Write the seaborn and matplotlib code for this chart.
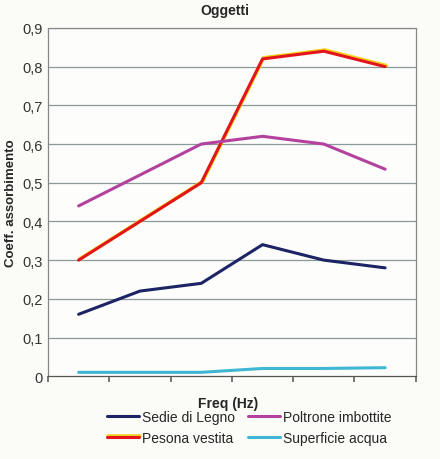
import numpy as np
import pandas as pd
import matplotlib
matplotlib.use("Agg")
import matplotlib.pyplot as plt
import matplotlib.patheffects as pe
from matplotlib.lines import Line2D
import seaborn as sns

freq_idx = [0, 1, 2, 3, 4, 5]
sedie = [0.16, 0.22, 0.24, 0.34, 0.30, 0.28]
persona = [0.30, 0.40, 0.50, 0.82, 0.84, 0.80]
poltrone = [0.44, 0.52, 0.60, 0.62, 0.60, 0.535]
acqua = [0.01, 0.01, 0.01, 0.02, 0.02, 0.022]
series_names = ["Sedie di Legno", "Pesona vestita", "Poltrone imbottite", "Superficie acqua"]
y_ticks = [0, 0.1, 0.2, 0.3, 0.4, 0.5, 0.6, 0.7, 0.8, 0.9]
y_labels = ["0", "0,1", "0,2", "0,3", "0,4", "0,5", "0,6", "0,7", "0,8", "0,9"]

df = pd.DataFrame({
    "x": freq_idx * 4,
    "y": sedie + persona + poltrone + acqua,
    "serie": sum([[n] * 6 for n in series_names], []),
})

sns.set_theme(style="white")
plt.rcParams['font.family'] = ['Liberation Sans', 'DejaVu Sans']

fig = plt.figure(figsize=(4.4, 4.6), dpi=100)
fig.patch.set_facecolor("#fbfbf8")
ax = fig.add_axes([0.109, 0.180, 0.836, 0.757])
ax.set_facecolor("#fdfdfb")

palette = {
    "Sedie di Legno": "#1c2466",
    "Pesona vestita": "#e3141c",
    "Poltrone imbottite": "#b3429e",
    "Superficie acqua": "#3fb6d3",
}
sns.lineplot(data=df, x="x", y="y", hue="serie", palette=palette, ax=ax,
             linewidth=2.2, legend=False, zorder=3)

red_fx = [pe.Stroke(linewidth=2.6, foreground="#f2d21a", offset=(0.8, 0.8)), pe.Normal()]
for line in ax.get_lines():
    if line.get_color() == "#e3141c":
        line.set_path_effects(red_fx)

ax.set_xlim(-0.5, 5.5)
ax.set_ylim(0, 0.9)
ax.set_yticks(y_ticks)
ax.set_yticklabels(y_labels, fontsize=10.5, color="#333333")
ax.set_xticks(np.arange(-0.5, 6.0, 1.0))
ax.set_xticklabels([])
ax.tick_params(axis="x", direction="out", length=4, color="#666666", bottom=True)
ax.tick_params(axis="y", length=0, pad=4)
for y in y_ticks[1:]:
    ax.axhline(y, color="#8a9a9a", linewidth=0.9, zorder=1)
for s in ax.spines.values():
    s.set_color("#888888")
    s.set_linestyle((0, (2, 1)))
    s.set_linewidth(0.9)
ax.spines["bottom"].set_linestyle("-")
ax.spines["bottom"].set_color("#555555")

ax.set_xlabel("Freq (Hz)", fontsize=10, fontweight="bold")
ax.xaxis.set_label_coords(0.49, -0.057)
ax.set_ylabel("Coeff. assorbimento", fontsize=9.5, fontweight="bold")
ax.yaxis.set_label_coords(-0.085, 0.5)
ax.set_title("Oggetti", fontsize=10, fontweight="bold", pad=10, x=0.48)

handles = [Line2D([0], [0], color=palette[n], lw=2.2) for n in series_names]
handles[1].set_path_effects(red_fx)
fig.legend(handles, series_names, loc="center", bbox_to_anchor=(0.566, 0.068), ncol=2,
           frameon=False, fontsize=10, handlelength=2.3, columnspacing=0.95,
           handletextpad=0.2, labelspacing=0.5)

fig.savefig("out.png", dpi=100, facecolor=fig.get_facecolor())
